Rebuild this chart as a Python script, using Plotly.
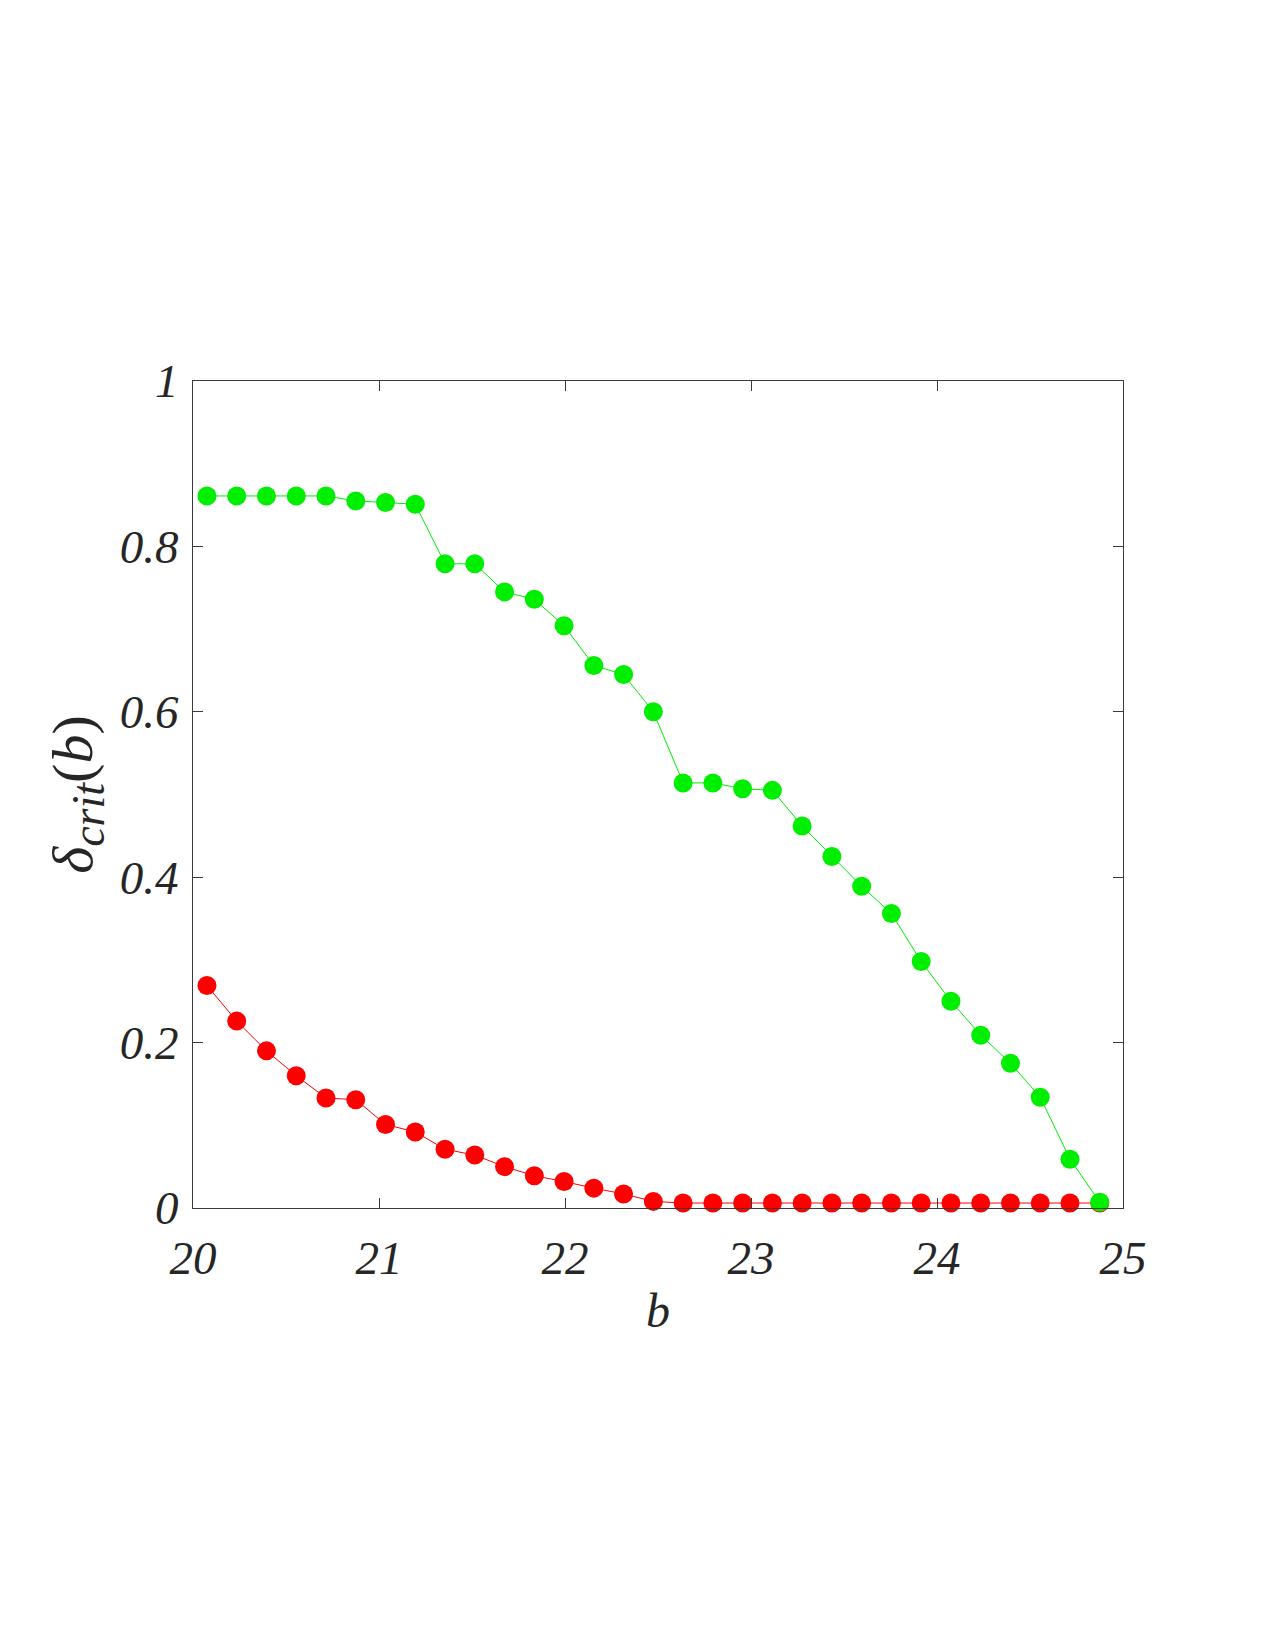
import plotly.graph_objects as go

b_values = [20.075, 20.235, 20.395, 20.555, 20.715, 20.875, 21.035, 21.195,
            21.355, 21.515, 21.675, 21.835, 21.995, 22.155, 22.315, 22.475,
            22.635, 22.795, 22.955, 23.115, 23.275, 23.435, 23.595, 23.755,
            23.915, 24.075, 24.235, 24.395, 24.555, 24.715, 24.875]

delta_upper = [0.861, 0.861, 0.861, 0.861, 0.861, 0.855, 0.853, 0.851,
               0.779, 0.779, 0.745, 0.736, 0.704, 0.656, 0.645, 0.600,
               0.514, 0.514, 0.507, 0.505, 0.462, 0.425, 0.389, 0.356,
               0.298, 0.250, 0.209, 0.175, 0.134, 0.059, 0.007]

delta_lower = [0.269, 0.226, 0.190, 0.160, 0.133, 0.131, 0.101, 0.092,
               0.071, 0.064, 0.050, 0.039, 0.032, 0.024, 0.017, 0.008,
               0.006, 0.006, 0.006, 0.006, 0.006, 0.006, 0.006, 0.006,
               0.006, 0.006, 0.006, 0.006, 0.006, 0.006, 0.006]

x_ticks = [20, 21, 22, 23, 24, 25]
y_ticks = [0, 0.2, 0.4, 0.6, 0.8, 1]
y_tick_labels = ["0", "0.2", "0.4", "0.6", "0.8", "1"]

SERIF = "'Liberation Serif', 'Times New Roman', 'DejaVu Serif', serif"

fig = go.Figure()
fig.add_trace(go.Scatter(
    x=b_values, y=delta_lower, mode="lines+markers",
    line=dict(color="#ff0000", width=1),
    marker=dict(color="#ff0000", size=19),
    cliponaxis=False, showlegend=False))
fig.add_trace(go.Scatter(
    x=b_values, y=delta_upper, mode="lines+markers",
    line=dict(color="#00ee00", width=1),
    marker=dict(color="#00ee00", size=19),
    cliponaxis=False, showlegend=False))

tick_font = dict(family=SERIF, size=47, color="#262626", style="italic")
axis_common = dict(
    showline=True, linecolor="#3a3a3a", linewidth=1.2, mirror="ticks",
    ticks="inside", ticklen=10, tickwidth=1, tickcolor="#3a3a3a",
    showgrid=False, zeroline=False, tickfont=tick_font,
)

fig.update_layout(
    width=1275, height=1650,
    margin=dict(l=193, r=152, t=381, b=442),
    paper_bgcolor="white", plot_bgcolor="white",
    xaxis=dict(range=[20, 25], tickvals=x_ticks, ticklabelstandoff=8,
               title=dict(text="<i>b</i>", font=dict(family=SERIF, size=48, color="#262626"),
                          standoff=10),
               **axis_common),
    yaxis=dict(range=[0, 1], tickvals=y_ticks, ticktext=y_tick_labels, ticklabelstandoff=4,
               title=dict(text="<i>δ</i><sub><i><span style='font-size:46px'>crit</span></i></sub>(<i>b</i>)",
                          font=dict(family=SERIF, size=58, color="#262626"),
                          standoff=8),
               **axis_common),
)

fig.write_html("out.html")
